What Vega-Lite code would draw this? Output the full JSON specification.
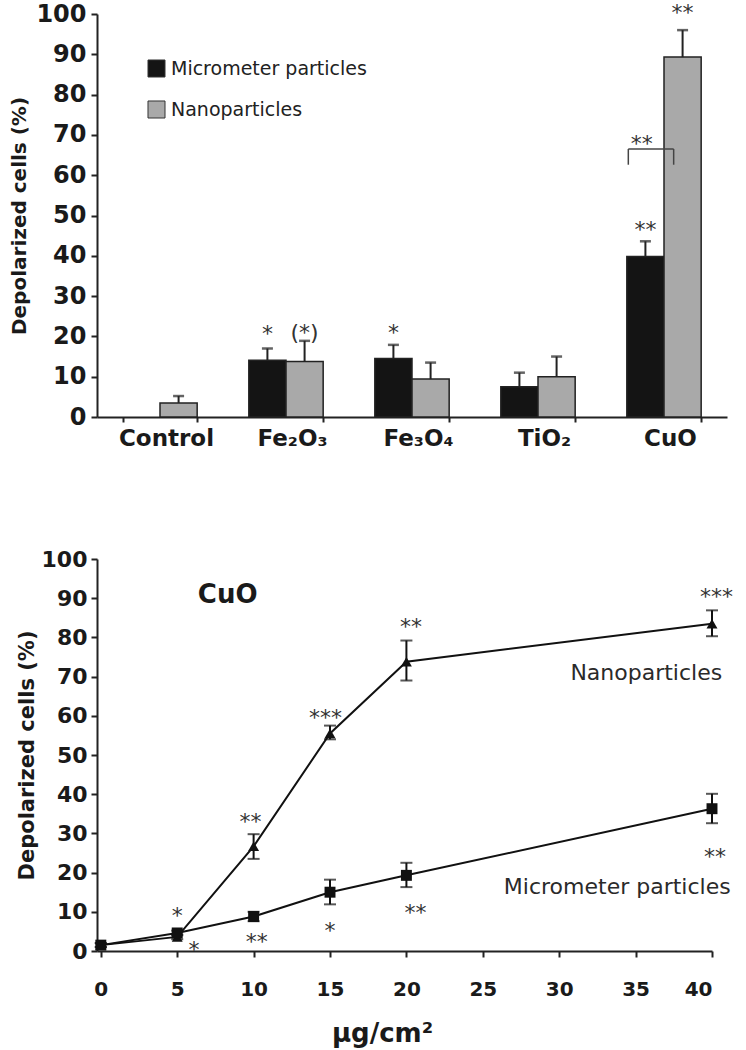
{
  "$schema": "https://vega.github.io/schema/vega-lite/v6.json",
  "background": "white",
  "padding": {"left": 9, "top": 1, "right": 5, "bottom": 5},
  "spacing": 98,
  "config": {
    "view": {"stroke": null},
    "font": "DejaVu Sans",
    "axis": {
      "grid": false, "domainColor": "#222", "domainWidth": 2, "tickColor": "#222",
      "tickWidth": 2, "tickSize": 6, "labelColor": "#1a1a1a", "titleColor": "#1a1a1a",
      "labelFont": "DejaVu Sans", "titleFont": "DejaVu Sans"
    }
  },
  "datasets": {
    "bars": [
      {"oxide": "Control", "particles": "Nanoparticles", "value": 3.5, "upper": 5.2},
      {"oxide": "Fe₂O₃", "particles": "Micrometer particles", "value": 14.1, "upper": 17.0},
      {"oxide": "Fe₂O₃", "particles": "Nanoparticles", "value": 13.8, "upper": 18.9},
      {"oxide": "Fe₃O₄", "particles": "Micrometer particles", "value": 14.5, "upper": 17.9},
      {"oxide": "Fe₃O₄", "particles": "Nanoparticles", "value": 9.4, "upper": 13.5},
      {"oxide": "TiO₂", "particles": "Micrometer particles", "value": 7.5, "upper": 11.0},
      {"oxide": "TiO₂", "particles": "Nanoparticles", "value": 10.0, "upper": 15.0},
      {"oxide": "CuO", "particles": "Micrometer particles", "value": 39.8, "upper": 43.6},
      {"oxide": "CuO", "particles": "Nanoparticles", "value": 89.3, "upper": 96.0}
    ],
    "barStars": [
      {"oxide": "Fe₂O₃", "particles": "Micrometer particles", "y": 22.3, "label": "*"},
      {"oxide": "Fe₂O₃", "particles": "Nanoparticles", "y": 22.6, "label": "(*)"},
      {"oxide": "Fe₃O₄", "particles": "Micrometer particles", "y": 22.6, "label": "*"},
      {"oxide": "CuO", "particles": "Micrometer particles", "y": 48.1, "label": "**"},
      {"oxide": "CuO", "particles": "Nanoparticles", "y": 102.0, "label": "**"}
    ],
    "bracket": [
      {"oxide": "CuO", "top": 66.5, "bottom": 62.6, "textY": 69.5, "label": "**"}
    ],
    "dose": [
      {"series": "Nanoparticles", "dose": 0, "value": 1.5, "lo": 1.0, "hi": 2.0},
      {"series": "Nanoparticles", "dose": 5, "value": 3.6, "lo": 3.0, "hi": 4.2},
      {"series": "Nanoparticles", "dose": 10, "value": 26.7, "lo": 23.5, "hi": 29.8},
      {"series": "Nanoparticles", "dose": 15, "value": 55.5, "lo": 54.0, "hi": 57.5},
      {"series": "Nanoparticles", "dose": 20, "value": 73.8, "lo": 69.0, "hi": 79.2},
      {"series": "Nanoparticles", "dose": 40, "value": 83.5, "lo": 80.3, "hi": 86.9},
      {"series": "Micrometer particles", "dose": 0, "value": 1.5, "lo": 1.0, "hi": 2.0},
      {"series": "Micrometer particles", "dose": 5, "value": 4.6, "lo": 4.0, "hi": 5.2},
      {"series": "Micrometer particles", "dose": 10, "value": 8.8, "lo": 7.6, "hi": 10.0},
      {"series": "Micrometer particles", "dose": 15, "value": 15.0, "lo": 11.9, "hi": 18.2},
      {"series": "Micrometer particles", "dose": 20, "value": 19.3, "lo": 16.3, "hi": 22.5},
      {"series": "Micrometer particles", "dose": 40, "value": 36.3, "lo": 32.6, "hi": 40.1}
    ],
    "doseStars": [
      {"dose": 5, "y": 10.8, "label": "*"},
      {"dose": 9.8, "y": 34.6, "label": "**"},
      {"dose": 14.7, "y": 61.3, "label": "***"},
      {"dose": 20.3, "y": 84.5, "label": "**"},
      {"dose": 40.3, "y": 92.2, "label": "***"},
      {"dose": 6.1, "y": 2.0, "label": "*"},
      {"dose": 10.2, "y": 4.0, "label": "**"},
      {"dose": 15, "y": 7.0, "label": "*"},
      {"dose": 20.6, "y": 11.4, "label": "**"},
      {"dose": 40.2, "y": 25.7, "label": "**"}
    ],
    "seriesLabels": [
      {"dose": 35.7, "y": 70.8, "label": "Nanoparticles"},
      {"dose": 33.8, "y": 16.3, "label": "Micrometer particles"}
    ],
    "panelLabel": [
      {"dose": 8.3, "y": 90.7, "label": "CuO"}
    ]
  },
  "vconcat": [
    {
      "width": 630,
      "height": 403,
      "encoding": {
        "x": {
          "field": "oxide", "type": "nominal",
          "sort": ["Control", "Fe₂O₃", "Fe₃O₄", "TiO₂", "CuO"],
          "scale": {"paddingInner": 0.41, "paddingOuter": 0.205},
          "axis": {
            "title": null, "labelAngle": 0, "labelFontSize": 23, "labelFontWeight": "bold",
            "tickBand": "extent", "tickSize": 5, "labelPadding": 5, "labelOffset": 6
          }
        }
      },
      "layer": [
        {
          "data": {"name": "bars"},
          "mark": {"type": "bar", "stroke": "#222", "strokeWidth": 1.5},
          "encoding": {
            "xOffset": {
              "field": "particles", "type": "nominal",
              "sort": ["Micrometer particles", "Nanoparticles"],
              "scale": {"domain": ["Micrometer particles", "Nanoparticles"], "paddingInner": 0, "paddingOuter": 0}
            },
            "y": {
              "field": "value", "type": "quantitative",
              "scale": {"domain": [0, 100], "nice": false},
              "axis": {
                "values": [0, 10, 20, 30, 40, 50, 60, 70, 80, 90, 100],
                "title": "Depolarized cells (%)", "titleFontSize": 20, "titleFontWeight": "bold",
                "labelFontSize": 24, "labelFontWeight": "bold", "labelPadding": 5, "titlePadding": 6
              }
            },
            "fill": {
              "field": "particles", "type": "nominal",
              "scale": {"domain": ["Micrometer particles", "Nanoparticles"], "range": ["#141414", "#a9a9a9"]},
              "legend": {
                "orient": "none", "legendX": 50, "legendY": 45, "title": null,
                "symbolType": "square", "symbolSize": 290, "symbolOpacity": 1,
                "symbolStrokeColor": "#333", "symbolStrokeWidth": 1,
                "labelFontSize": 19, "labelFont": "DejaVu Sans", "labelColor": "#222",
                "labelLimit": 400, "rowPadding": 18, "labelOffset": 5
              }
            }
          }
        },
        {
          "data": {"name": "bars"},
          "mark": {"type": "rule", "strokeWidth": 2, "color": "#222"},
          "encoding": {
            "xOffset": {"field": "particles", "type": "nominal"},
            "y": {"field": "value", "type": "quantitative"},
            "y2": {"field": "upper"}
          }
        },
        {
          "data": {"name": "bars"},
          "mark": {"type": "tick", "orient": "horizontal", "size": 11, "thickness": 2.5, "color": "#222"},
          "encoding": {
            "xOffset": {"field": "particles", "type": "nominal"},
            "y": {"field": "upper", "type": "quantitative"}
          }
        },
        {
          "data": {"name": "barStars"},
          "mark": {"type": "text", "fontSize": 22, "color": "#333", "baseline": "middle", "dy": 7},
          "encoding": {
            "xOffset": {"field": "particles", "type": "nominal"},
            "y": {"field": "y", "type": "quantitative"},
            "text": {"field": "label"}
          }
        },
        {
          "data": {"name": "bracket"},
          "mark": {"type": "rule", "strokeWidth": 1.5, "color": "#444"},
          "encoding": {
            "x": {"field": "oxide", "type": "nominal", "bandPosition": 0.02},
            "x2": {"field": "oxide", "bandPosition": 0.63},
            "y": {"field": "top", "type": "quantitative"}
          }
        },
        {
          "data": {"name": "bracket"},
          "mark": {"type": "rule", "strokeWidth": 1.5, "color": "#444"},
          "encoding": {
            "x": {"field": "oxide", "type": "nominal", "bandPosition": 0.02},
            "y": {"field": "top", "type": "quantitative"},
            "y2": {"field": "bottom"}
          }
        },
        {
          "data": {"name": "bracket"},
          "mark": {"type": "rule", "strokeWidth": 1.5, "color": "#444"},
          "encoding": {
            "x": {"field": "oxide", "type": "nominal", "bandPosition": 0.63},
            "y": {"field": "top", "type": "quantitative"},
            "y2": {"field": "bottom"}
          }
        },
        {
          "data": {"name": "bracket"},
          "mark": {"type": "text", "fontSize": 22, "color": "#333", "baseline": "middle", "dy": 7},
          "encoding": {
            "x": {"field": "oxide", "type": "nominal", "bandPosition": 0.2},
            "y": {"field": "textY", "type": "quantitative"},
            "text": {"field": "label"}
          }
        }
      ]
    },
    {
      "width": 615,
      "height": 392,
      "encoding": {
        "x": {
          "field": "dose", "type": "quantitative",
          "scale": {"domain": [-0.25, 40], "nice": false, "zero": false},
          "axis": {
            "values": [0, 5, 10, 15, 20, 25, 30, 35, 40],
            "title": "μg/cm²", "titleFontSize": 26, "titleFontWeight": "bold",
            "titleX": 285, "titleAnchor": "middle", "titleAlign": "center",
            "labelFontSize": 20, "labelFontWeight": "bold", "labelPadding": 22, "titlePadding": 21
          }
        },
        "y": {
          "field": "value", "type": "quantitative",
          "scale": {"domain": [0, 100], "nice": false},
          "axis": {
            "values": [0, 10, 20, 30, 40, 50, 60, 70, 80, 90, 100],
            "title": "Depolarized cells (%)", "titleFontSize": 21, "titleFontWeight": "bold",
            "labelFontSize": 22, "labelFontWeight": "bold", "labelPadding": 4, "titlePadding": 4
          }
        }
      },
      "layer": [
        {
          "data": {"name": "dose"},
          "mark": {"type": "line", "strokeWidth": 2, "color": "#111"},
          "encoding": {"detail": {"field": "series", "type": "nominal"}}
        },
        {
          "data": {"name": "dose"},
          "mark": {"type": "rule", "strokeWidth": 2, "color": "#111"},
          "encoding": {"y": {"field": "lo", "type": "quantitative"}, "y2": {"field": "hi"}}
        },
        {
          "data": {"name": "dose"},
          "mark": {"type": "tick", "orient": "horizontal", "size": 12, "thickness": 2, "color": "#111"},
          "encoding": {"y": {"field": "lo", "type": "quantitative"}}
        },
        {
          "data": {"name": "dose"},
          "mark": {"type": "tick", "orient": "horizontal", "size": 12, "thickness": 2, "color": "#111"},
          "encoding": {"y": {"field": "hi", "type": "quantitative"}}
        },
        {
          "data": {"name": "dose"},
          "mark": {"type": "point", "filled": true, "size": 120, "opacity": 1, "color": "#111"},
          "encoding": {
            "shape": {
              "field": "series", "type": "nominal",
              "scale": {"domain": ["Nanoparticles", "Micrometer particles"], "range": ["triangle-up", "square"]},
              "legend": null
            }
          }
        },
        {
          "data": {"name": "doseStars"},
          "mark": {"type": "text", "fontSize": 22, "color": "#333", "baseline": "middle", "dy": 7},
          "encoding": {
            "x": {"field": "dose", "type": "quantitative"},
            "y": {"field": "y", "type": "quantitative"},
            "text": {"field": "label"}
          }
        },
        {
          "data": {"name": "seriesLabels"},
          "mark": {"type": "text", "fontSize": 22, "color": "#2a2a2a", "baseline": "middle"},
          "encoding": {
            "x": {"field": "dose", "type": "quantitative"},
            "y": {"field": "y", "type": "quantitative"},
            "text": {"field": "label"}
          }
        },
        {
          "data": {"name": "panelLabel"},
          "mark": {"type": "text", "fontSize": 26, "fontWeight": "bold", "color": "#1a1a1a", "baseline": "middle"},
          "encoding": {
            "x": {"field": "dose", "type": "quantitative"},
            "y": {"field": "y", "type": "quantitative"},
            "text": {"field": "label"}
          }
        }
      ]
    }
  ]
}
